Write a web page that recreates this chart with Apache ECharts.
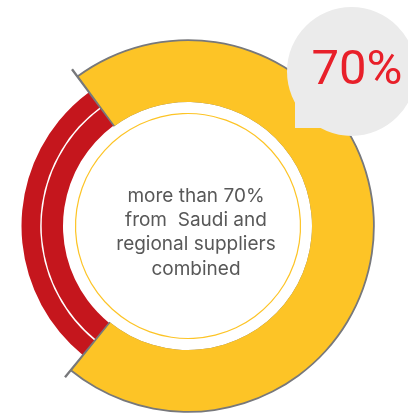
<!DOCTYPE html>
<html>
<head>
<meta charset="utf-8">
<script src="https://cdn.jsdelivr.net/npm/echarts@6/dist/echarts.min.js"></script>
<style>
html,body{margin:0;padding:0;background:#fff;}
#c{width:408px;height:416px;}
</style>
</head>
<body>
<div id="c"></div>
<script>
// ---- data ----
const categories = ['Saudi and regional suppliers', 'Other suppliers'];
const shares = [71, 29];
const headline = '70%';
const centerLines = ['more than 70%', 'from  Saudi and', 'regional suppliers', 'combined'];

// ---- style ----
const YELLOW = '#FDC426';
const RED = '#C5161D';
const GRAY = '#77787B';
const NONE = 'rgba(0,0,0,0)';
const CX = 188, CY = 226;
const START = 126.5;

const chart = echarts.init(document.getElementById('c'), null, {renderer: 'canvas'});

function ringData(colors) {
  return categories.map((name, i) => ({
    name, value: shares[i],
    itemStyle: {color: colors[i], borderWidth: 0}
  }));
}
const total = shares.reduce((a, b) => a + b, 0);
const halfTick = 0.35; // degrees
const e = 2 * halfTick / 360 * total;
const tickData = [
  {value: e, itemStyle: {color: GRAY, borderWidth: 0}},
  {value: shares[0] - e, itemStyle: {color: NONE, borderWidth: 0}},
  {value: e, itemStyle: {color: GRAY, borderWidth: 0}},
  {value: shares[1] - e, itemStyle: {color: NONE, borderWidth: 0}}
];

const base = {
  type: 'pie', center: [CX, CY], startAngle: START, clockwise: true,
  silent: true, animation: false, label: {show: false}, labelLine: {show: false},
  emphasis: {disabled: true}, avoidLabelOverlap: false
};

chart.setOption({
  backgroundColor: '#fff',
  series: [
    Object.assign({}, base, {radius: [124, 186.8], data: ringData([GRAY, NONE])}),
    Object.assign({}, base, {radius: [124, 185], data: ringData([YELLOW, NONE])}),
    Object.assign({}, base, {radius: [125, 146.3], data: ringData([NONE, RED])}),
    Object.assign({}, base, {radius: [147.8, 166.5], data: ringData([NONE, RED])}),
    Object.assign({}, base, {startAngle: START + halfTick, radius: [124, 195], data: tickData}),
    Object.assign({}, base, {radius: [111.9, 113.1], data: [{value: total, itemStyle: {color: YELLOW, borderWidth: 0}}]})
  ],
  title: {
    text: centerLines.join('\n'),
    left: 191, top: 179, textAlign: 'center',
    textStyle: {fontFamily: 'Inter', fontWeight: 400, fontSize: 19, lineHeight: 24.3, color: '#585858'}
  },
  graphic: [
    {type: 'circle', shape: {cx: 351.5, cy: 71.5, r: 64.5}, style: {fill: '#EBEBEB'}, z: 100},
    {type: 'rect', shape: {x: 295, y: 71.5, width: 57, height: 56.5}, style: {fill: '#EBEBEB'}, z: 100},
    {type: 'text', x: 357, y: 72, z: 101, style: {text: headline, fill: '#E8202A', font: '400 49px Roboto', textAlign: 'center', textVerticalAlign: 'middle'}}
  ]
});
</script>
</body>
</html>
